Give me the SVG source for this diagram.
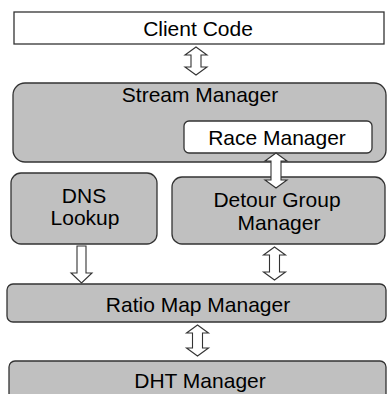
<svg xmlns="http://www.w3.org/2000/svg" width="387" height="394" viewBox="0 0 387 394">
<style>
.box{fill:#c0c0c0;stroke:#333;stroke-width:1.3}
.wbox{fill:#fff;stroke:#333;stroke-width:1.3}
.arr{fill:#fff;stroke:#333;stroke-width:1.1;stroke-linejoin:miter}
text{font-family:"Liberation Sans",Arial,sans-serif;font-size:21px;fill:#000;text-anchor:middle}
</style>
<rect width="387" height="394" fill="#fff"/>
<g id="client-code">
<rect class="wbox" x="14" y="12" width="370" height="32"/>
<text x="198" y="36">Client Code</text>
</g>
<g id="stream-manager">
<rect class="box" x="13" y="83" width="373" height="79" rx="12"/>
<text x="200" y="102">Stream Manager</text>
</g>
<g id="race-manager">
<rect class="wbox" x="184" y="121" width="188" height="32" rx="5"/>
<text x="277" y="145">Race Manager</text>
</g>
<g id="dns-lookup">
<rect class="box" x="11" y="173" width="146" height="71" rx="10"/>
<text x="84" y="203">DNS</text>
<text x="85" y="225">Lookup</text>
</g>
<g id="detour-group-manager">
<rect class="box" x="172" y="177" width="213" height="67" rx="10"/>
<text x="277" y="207">Detour Group</text>
<text x="279" y="230">Manager</text>
</g>
<g id="ratio-map-manager">
<rect class="box" x="7" y="284" width="379" height="38" rx="6"/>
<text x="198" y="312">Ratio Map Manager</text>
</g>
<g id="dht-manager">
<rect class="box" x="9" y="361" width="377" height="45" rx="6"/>
<text x="200" y="388">DHT Manager</text>
</g>
<g id="connectors">
<polygon class="arr" points="196,47 207,55 201,55 201,67 207,67 196,75 185,67 191,67 191,55 185,55"/>
<polygon class="arr" points="276,153 287,161 281,161 281,180 287,180 276,188 265,180 271,180 271,161 265,161"/>
<polygon class="arr" points="77,246 86,246 86,273 92,273 81.5,283 71,273 77,273"/>
<polygon class="arr" points="274.5,247 285.5,255 279.5,255 279.5,272 285.5,272 274.5,280 263.5,272 269.5,272 269.5,255 263.5,255"/>
<polygon class="arr" points="197.5,325 208.5,333 202.5,333 202.5,348 208.5,348 197.5,356 186.5,348 192.5,348 192.5,333 186.5,333"/>
</g>
</svg>
